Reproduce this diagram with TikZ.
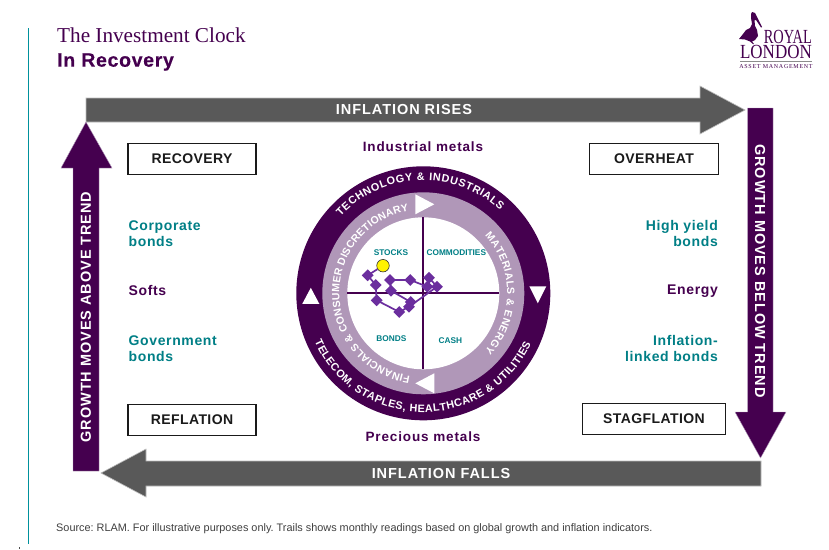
\documentclass[tikz,border=0pt]{standalone}
\usepackage{fontspec}
\setmainfont{Liberation Sans}
\newfontfamily\serifn{Liberation Serif}
\newfontfamily\spacedA[LetterSpace=6.5]{Liberation Sans}
\newfontfamily\spacedB[LetterSpace=3]{Liberation Sans}
\newfontfamily\spacedC[LetterSpace=4.5]{Liberation Sans}
\newfontfamily\spacedD[LetterSpace=6.4]{Liberation Sans}
\newfontfamily\subfont[LetterSpace=3.5,FakeBold=0.4]{Liberation Sans}
\newfontfamily\amfont[LetterSpace=12]{Liberation Serif}
\usetikzlibrary{shapes.geometric}
\definecolor{plum}{HTML}{45004F}
\definecolor{lilac}{HTML}{B097B8}
\definecolor{tealx}{HTML}{007F86}
\definecolor{rulet}{HTML}{00919C}
\definecolor{greyx}{HTML}{595959}
\definecolor{trail}{HTML}{6B2E9E}
\definecolor{ink}{HTML}{1A1A1A}
\definecolor{sunny}{HTML}{FFF200}
\tikzset{
  bigarrowgrey/.style={fill=greyx,draw=greyx!40,line width=.6pt},
  bigarrowplum/.style={fill=plum,draw=lilac,line width=.4pt},
  arrowlabel/.style={text=white,inner sep=0pt,font=\spacedA\fontsize{14.5}{16}\selectfont\bfseries},
  phasebox/.style={draw=ink,line width=1.4pt,fill=white,text=ink,font=\spacedB\fontsize{14}{15}\selectfont\bfseries,minimum height=31pt,inner sep=0pt},
  sidelabel/.style={font=\spacedC\fontsize{14}{15.7}\selectfont\bfseries,inner sep=0pt},
  metal/.style={text=plum,font=\spacedD\fontsize{13.5}{15}\selectfont\bfseries,inner sep=0pt},
  assetlabel/.style={text=tealx,font=\fontsize{8.3}{9}\selectfont\bfseries,inner sep=0pt},
  tri/.style={fill=white,draw=none},
  trailmark/.style={fill=trail,draw=none,diamond,minimum size=12pt,inner sep=0pt},
  trailline/.style={draw=trail,line width=1.7pt},
  ringletter/.style={text=white,inner sep=0pt,anchor=base},
}
\ExplSyntaxOn
\prop_new:N \g__ring_w_prop
\prop_gset_from_keyval:Nn \g__ring_w_prop
 { A=722, B=722, C=722, D=722, E=667, F=611, G=778, H=722, I=278, J=556, K=722,
   L=611, M=833, N=722, O=778, P=667, Q=778, R=722, S=667, T=611, U=722, V=667,
   W=944, X=667, Y=667, Z=611, & = 722 }
\prop_gput:Nnn \g__ring_w_prop { ~ } { 278 }
\prop_gput:Nnn \g__ring_w_prop { , } { 278 }
\fp_new:N \l__ring_total_fp
\fp_new:N \l__ring_pos_fp
\fp_new:N \l__ring_wd_fp
\int_new:N \l__ring_count_int
\fp_new:N \l__ring_sign_fp
\fp_new:N \l__ring_gap_fp
\fp_new:N \l__ring_a_fp
\tl_new:N \l__ring_x_tl
\tl_new:N \l__ring_y_tl
\tl_new:N \l__ring_r_tl
% size, radius, start angle, end angle, text
\NewDocumentCommand \RingText { m m m m m }
 {
  \fp_zero:N \l__ring_total_fp
  \int_zero:N \l__ring_count_int
  \str_map_inline:nn {#5}
   {
    \fp_add:Nn \l__ring_total_fp { \prop_item:Nn \g__ring_w_prop {##1} * (#1) / 1000 }
    \int_incr:N \l__ring_count_int
   }
  \fp_set:Nn \l__ring_sign_fp { sign((#4)-(#3)) }
  \fp_set:Nn \l__ring_gap_fp
   { ( abs((#4)-(#3)) * pi / 180 * (#2) - \l__ring_total_fp )
     / ( \l__ring_count_int - 1 ) }
  \fp_zero:N \l__ring_pos_fp
  \str_map_inline:nn {#5}
   {
    \fp_set:Nn \l__ring_wd_fp { \prop_item:Nn \g__ring_w_prop {##1} * (#1) / 1000 }
    \fp_set:Nn \l__ring_a_fp
     { (#3) + \l__ring_sign_fp * ( \l__ring_pos_fp + \l__ring_wd_fp / 2 ) / (#2) * 180 / pi }
    \tl_set:Nx \l__ring_x_tl { \fp_eval:n { round( (#2) * cosd(\l__ring_a_fp), 3) } }
    \tl_set:Nx \l__ring_y_tl { \fp_eval:n { round( (#2) * sind(\l__ring_a_fp), 3) } }
    \tl_set:Nx \l__ring_r_tl { \fp_eval:n { round( \l__ring_a_fp + 90 * \l__ring_sign_fp, 3) } }
    \node [ ringletter, rotate = \l__ring_r_tl ] at ( \l__ring_x_tl , \l__ring_y_tl )
      { \fontsize{#1}{12}\selectfont\bfseries ##1 } ;
    \fp_add:Nn \l__ring_pos_fp { \l__ring_wd_fp + \l__ring_gap_fp }
   }
 }
\ExplSyntaxOff
\begin{document}
\begin{tikzpicture}[x=1pt,y=-1pt]
\useasboundingbox (0,0) rectangle (829,549);
\fill[white] (0,0) rectangle (829,549);
\draw[rulet,line width=1pt] (28.5,28) -- (28.5,544);
\fill[black!70] (19,547) rectangle (20.2,549);
\node[anchor=west,inner sep=0pt,text=plum,font=\serifn\fontsize{21.2}{22}\selectfont] (title) at (57,35) {The Investment Clock};
\node[anchor=west,inner sep=0pt,text=plum,font=\subfont\fontsize{19.5}{21}\selectfont\bfseries] (subtitle) at (57,62) {In Recovery};
% logo
\fill[plum] (752,12) -- (755,13) -- (757,17) -- (762,27) -- (761,27.5) -- (756,20) -- (754.5,20) -- (755,26) -- (757,30) -- (758,36) -- (755,40) -- (752,41.5) -- (754,44) -- (753,44) -- (750,41.5) -- (745,39.5) -- (739,39) -- (743,34) -- (746,30) -- (750,28) -- (752,24) -- (751,18) -- (751,14) -- cycle;
\node[text=plum,inner sep=0pt,anchor=east,xscale=.72,font=\serifn\fontsize{20}{20}\selectfont] (royal) at (812,37) {ROYAL};
\node[text=plum,inner sep=0pt,anchor=east,xscale=.85,font=\serifn\fontsize{20}{20}\selectfont] (london) at (812,52) {LONDON};
\draw[black!45,line width=.6pt] (740,61) -- (812,61);
\node[text=plum,inner sep=0pt,font=\amfont\fontsize{6}{6}\selectfont] (am) at (776,67) {ASSET MANAGEMENT};
% arrows
\draw[bigarrowgrey] (86,98) -- (700,98) -- (700,86) -- (745,110) -- (700,134) -- (700,122) -- (86,122) -- cycle;
\node[arrowlabel] (rises) at (404,110) {INFLATION RISES};
\path[bigarrowplum] (747.5,108) -- (773,108) -- (773,412) -- (786,412) -- (760.5,458) -- (735,412) -- (747.5,412) -- cycle;
\node[arrowlabel,rotate=-90] (below) at (760,271) {GROWTH MOVES BELOW TREND};
\draw[bigarrowgrey] (761,461) -- (146,461) -- (146,449) -- (101,473) -- (146,497) -- (146,486) -- (761,486) -- cycle;
\node[arrowlabel] (falls) at (441,473) {INFLATION FALLS};
\path[bigarrowplum] (86,122) -- (112,168) -- (99,168) -- (99,471) -- (73,471) -- (73,168) -- (61,168) -- cycle;
\node[arrowlabel,rotate=90] (above) at (86,317) {GROWTH MOVES ABOVE TREND};
% phases
\node[phasebox,minimum width=128pt] (recovery) at (192,159) {RECOVERY};
\node[phasebox,minimum width=129pt] (overheat) at (654,159) {OVERHEAT};
\node[phasebox,minimum width=128pt] (reflation) at (192,420) {REFLATION};
\node[phasebox,minimum width=143pt] (stagflation) at (654,419) {STAGFLATION};
% left
\node[sidelabel,text=tealx,anchor=north west,align=left] (corp) at (128.5,220.5) {Corporate\\bonds};
\node[sidelabel,text=plum,anchor=west] (softs) at (128.5,290.5) {Softs};
\node[sidelabel,text=tealx,anchor=north west,align=left] (gov) at (128.5,335.5) {Government\\bonds};
% right
\node[sidelabel,text=tealx,anchor=north east,align=right] (hy) at (718,220.5) {High yield\\bonds};
\node[sidelabel,text=plum,anchor=east] (energy) at (718,291.5) {Energy};
\node[sidelabel,text=tealx,anchor=north east,align=right] (il) at (718,335.5) {Inflation-\\linked bonds};
\node[metal] (ind) at (423,147) {Industrial metals};
\node[metal] (prec) at (423,437) {Precious metals};
\node[anchor=west,inner sep=0pt,text=black!75,font=\frenchspacing\fontsize{10.88}{12}\selectfont] (source) at (56,529) {Source: RLAM. For illustrative purposes only. Trails shows monthly readings based on global growth and inflation indicators.};
% clock
\begin{scope}[shift={(423.3,293.3)},x=1pt,y=1pt]
\fill[plum] (0,0) circle (127pt);
\fill[lilac] (0,0) circle (101pt);
\fill[white] (0,0) circle (76pt);
\draw[plum,line width=1.8pt] (-76,0) -- (76,0);
\draw[plum,line width=1.8pt] (0,76) -- (0,-76);
\fill[tri] (-8,99) -- (11,89) -- (-8,79) -- cycle;
\fill[tri] (11,-100) -- (-8,-90) -- (11,-80) -- cycle;
\fill[tri] (-121,-10.5) -- (-104,-10.5) -- (-112.5,5.5) -- cycle;
\fill[tri] (106,7) -- (123,7) -- (114.5,-10) -- cycle;
\RingText{10.8}{113}{137}{47}{TECHNOLOGY & INDUSTRIALS}
\RingText{10.8}{119}{204}{335}{TELECOM, STAPLES, HEALTHCARE & UTILITIES}
\RingText{10.5}{84}{261}{100}{FINANCIALS & CONSUMER DISCRETIONARY}
\RingText{10.5}{84}{43}{-43}{MATERIALS & ENERGY}
\end{scope}
\node[assetlabel] (stocks) at (391,252.3) {STOCKS};
\node[assetlabel] (commod) at (456.3,252.3) {COMMODITIES};
\node[assetlabel] (bonds) at (391.3,339) {BONDS};
\node[assetlabel] (cash) at (450.3,341) {CASH};
% trail
\node[trailmark] (t1) at (367.7,275.3) {};
\node[trailmark] (t2) at (375.7,285) {};
\node[trailmark] (t3) at (376.7,300.3) {};
\node[trailmark] (t4) at (399.3,312) {};
\node[trailmark] (t5) at (409,306.7) {};
\node[trailmark] (t6) at (410.7,302) {};
\node[trailmark] (t7) at (391,290.7) {};
\node[trailmark] (t8) at (390,280) {};
\node[trailmark] (t9) at (410.3,280) {};
\node[trailmark] (t10) at (427.3,286.7) {};
\node[trailmark] (t11) at (429,277.7) {};
\node[trailmark] (t12) at (437,286.7) {};
\node[circle,fill=sunny,draw=black!80,line width=.6pt,minimum size=12.5pt,inner sep=0pt] (now) at (383,265.7) {};
\draw[trailline] (now) -- (t1.center) -- (t2.center) -- (t3.center) -- (t4.center) -- (t5.center) -- (t6.center) -- (t7.center) -- (t8.center) -- (t9.center) -- (t10.center) -- (t11.center) -- (t12.center) -- (t5.center);
\end{tikzpicture}
\end{document}
